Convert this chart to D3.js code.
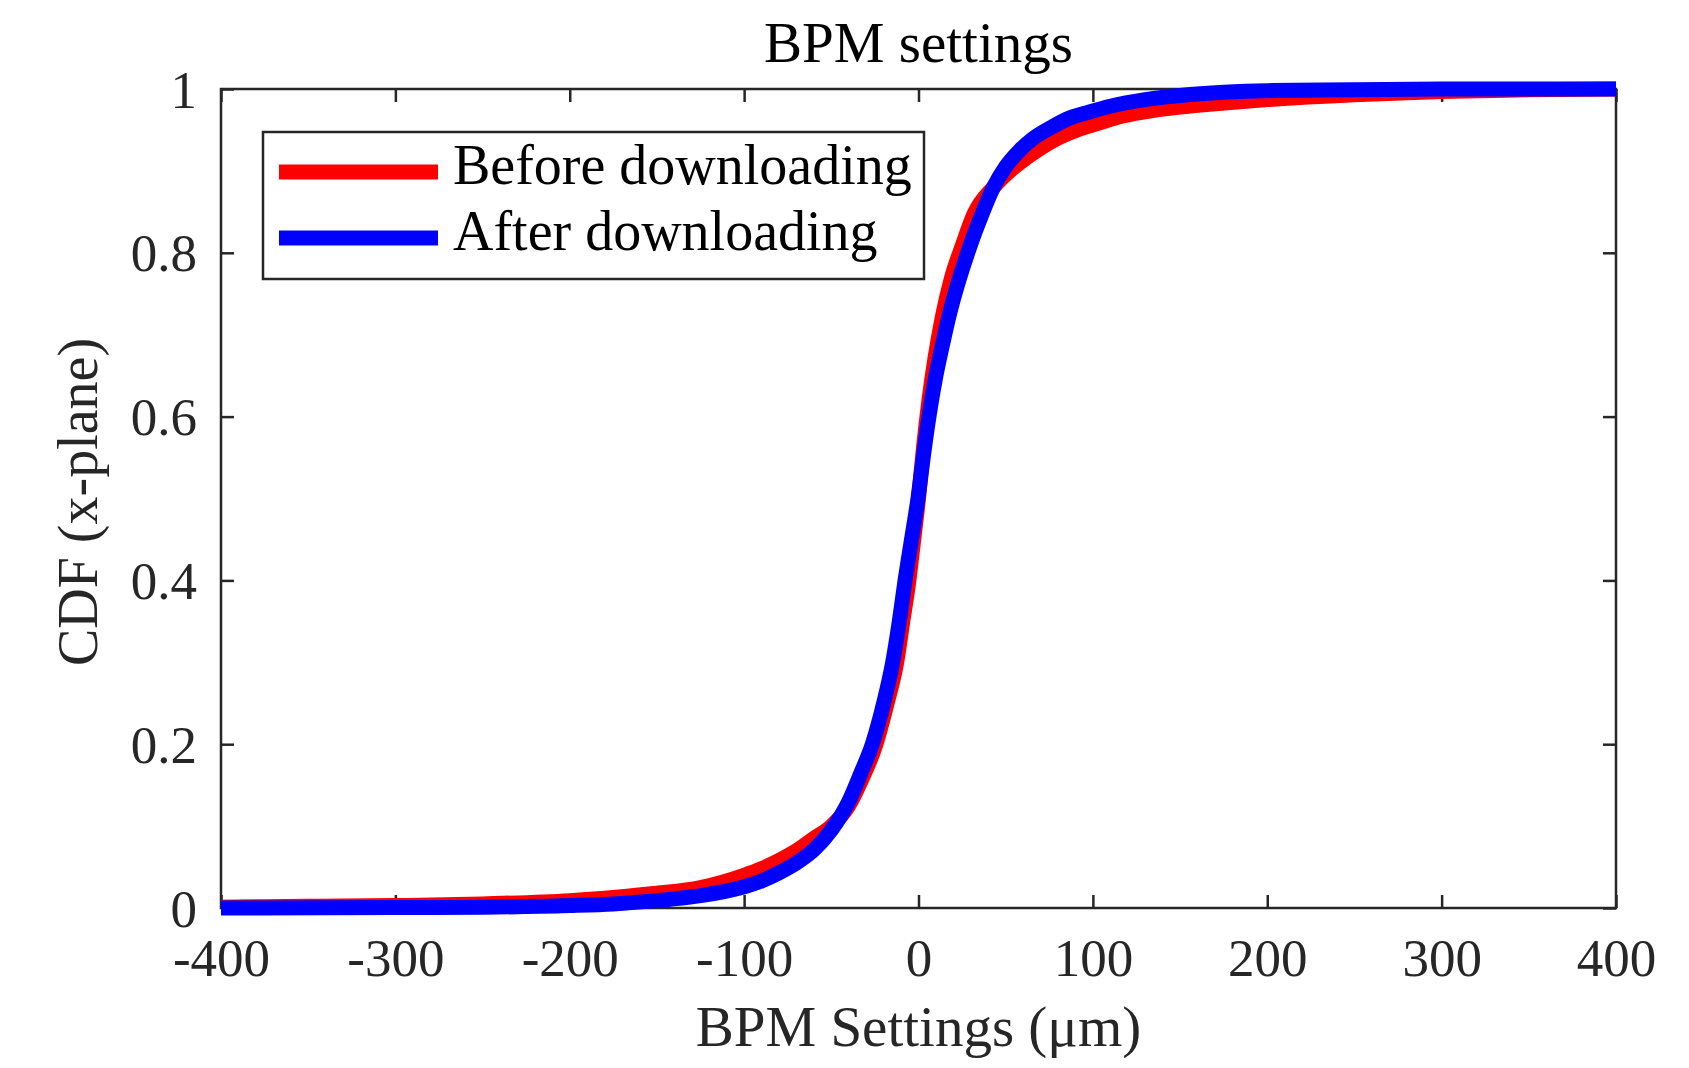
<!DOCTYPE html>
<html>
<head>
<meta charset="utf-8">
<script src="https://cdn.jsdelivr.net/npm/d3@7"></script>
<style>
  body { margin: 0; background: #fff; }
  text { font-family: "Liberation Serif", "Times New Roman", serif; }
</style>
</head>
<body>
<div id="chart"></div>
<script>
// values (x in um, y = CDF)
var beforeX = [-400, -350, -300, -250, -200, -175, -150, -125, -100, -90, -80, -70, -60, -50, -40, -33, -24.4, -18, -12.5, -9, -5.8, -3, 0, 3, 6, 9.5, 13.7, 19, 25, 32, 43, 54, 62, 71, 80, 91, 103, 117, 135, 150, 170, 200, 250, 300, 350, 400];
var beforeY = [0.001, 0.002, 0.003, 0.005, 0.009, 0.013, 0.018, 0.025, 0.04, 0.048, 0.058, 0.07, 0.085, 0.10, 0.125, 0.155, 0.20, 0.25, 0.30, 0.35, 0.395, 0.445, 0.50, 0.565, 0.62, 0.672, 0.722, 0.77, 0.808, 0.848, 0.88, 0.903, 0.916, 0.929, 0.94, 0.95, 0.958, 0.967, 0.974, 0.978, 0.982, 0.987, 0.993, 0.997, 0.999, 1.0];

var afterX = [-400, -300, -250, -200, -175, -150, -125, -100, -90, -80, -70, -60, -50, -40, -33, -26.5, -20, -14.8, -11, -7.7, -4, -0.3, 3, 6, 10, 14, 18, 29.5, 36, 43, 50, 58, 66, 76, 86, 98, 110, 130, 150, 175, 200, 250, 300, 400];
var afterY = [0.0, 0.0005, 0.001, 0.003, 0.005, 0.009, 0.015, 0.026, 0.033, 0.043, 0.055, 0.071, 0.095, 0.13, 0.165, 0.20, 0.25, 0.30, 0.35, 0.40, 0.45, 0.50, 0.555, 0.60, 0.65, 0.69, 0.727, 0.808, 0.845, 0.88, 0.905, 0.925, 0.94, 0.953, 0.964, 0.972, 0.979, 0.987, 0.992, 0.996, 0.998, 0.999, 1.0, 1.0];

var xTicks = [-400, -300, -200, -100, 0, 100, 200, 300, 400];
var yTicks = [0, 0.2, 0.4, 0.6, 0.8, 1];
var yTickLabels = ["0", "0.2", "0.4", "0.6", "0.8", "1"];

var seriesNames = ["Before downloading", "After downloading"];
var seriesColors = ["#ff0000", "#0000ff"];

var W = 1689, H = 1068;
var plotL = 221, plotR = 1616, plotT = 89, plotB = 908;
var ink = "#262626";

var svg = d3.select("#chart").append("svg").attr("width", W).attr("height", H);
svg.append("rect").attr("width", W).attr("height", H).style("fill", "#fff");

var x = d3.scaleLinear().domain([-400, 400]).range([plotL, plotR]);
var y = d3.scaleLinear().domain([0, 1]).range([plotB, plotT]);

// ---------- axes (ticks inward on all four sides) ----------
var tl = 13;
var gx = svg.append("g").attr("transform", "translate(0," + plotB + ")")
  .call(d3.axisBottom(x).tickValues(xTicks).tickSizeInner(-tl).tickSizeOuter(0).tickPadding(30).tickFormat(function(d){ return String(d); }));
var gy = svg.append("g").attr("transform", "translate(" + plotL + ",0)")
  .call(d3.axisLeft(y).tickValues(yTicks).tickSizeInner(-tl).tickSizeOuter(0).tickPadding(24).tickFormat(function(d, i){ return yTickLabels[i]; }));
var gt = svg.append("g").attr("transform", "translate(0," + plotT + ")")
  .call(d3.axisTop(x).tickValues(xTicks).tickSizeInner(-tl).tickSizeOuter(0).tickFormat(""));
var gr = svg.append("g").attr("transform", "translate(" + plotR + ",0)")
  .call(d3.axisRight(y).tickValues(yTicks).tickSizeInner(-tl).tickSizeOuter(0).tickFormat(""));

[gx, gy, gt, gr].forEach(function(g){
  g.select(".domain").remove();
  g.selectAll("line").style("stroke", ink).style("stroke-width", 2.5);
  g.selectAll("text").style("fill", ink).style("font-size", "53px")
   .style("font-family", "'Liberation Serif', 'Times New Roman', serif");
});
gy.selectAll("text").attr("dy", "0.34em");

svg.append("rect").attr("x", plotL).attr("y", plotT)
  .attr("width", plotR - plotL).attr("height", plotB - plotT)
  .style("fill", "none").style("stroke", ink).style("stroke-width", 2.5);

// ---------- curves ----------
var line = d3.line().x(function(d){ return x(d[0]); }).y(function(d){ return y(d[1]); })
  .curve(d3.curveMonotoneX);

var beforeData = d3.zip(beforeX, beforeY);
var afterData = d3.zip(afterX, afterY);

[beforeData, afterData].forEach(function(data, i){
  svg.append("path").datum(data).attr("d", line)
    .style("fill", "none").style("stroke", seriesColors[i])
    .style("stroke-width", 15).style("stroke-linejoin", "round");
});

// ---------- texts ----------
svg.append("text").attr("x", (plotL + plotR) / 2).attr("y", 62)
  .attr("text-anchor", "middle").style("font-size", "57px").style("fill", "#000")
  .text("BPM settings");

svg.append("text").attr("x", (plotL + plotR) / 2).attr("y", 1046)
  .attr("text-anchor", "middle").style("font-size", "57px").style("fill", ink)
  .text("BPM Settings (\u03bcm)");

svg.append("text").attr("transform", "translate(97,502) rotate(-90)")
  .attr("text-anchor", "middle").style("font-size", "56px").style("fill", ink)
  .text("CDF (x-plane)");

// ---------- legend ----------
var legend = svg.append("g");
legend.append("rect").attr("x", 263).attr("y", 132).attr("width", 661).attr("height", 147)
  .style("fill", "#fff").style("stroke", ink).style("stroke-width", 2.5);

var rowY = [172, 238];
seriesNames.forEach(function(name, i){
  legend.append("line").attr("x1", 279).attr("x2", 438).attr("y1", rowY[i]).attr("y2", rowY[i])
    .style("stroke", seriesColors[i]).style("stroke-width", 15);
  legend.append("text").attr("x", 453).attr("y", rowY[i] + 12)
    .style("font-size", "56px").style("fill", "#000").text(name);
});
</script>
</body>
</html>
